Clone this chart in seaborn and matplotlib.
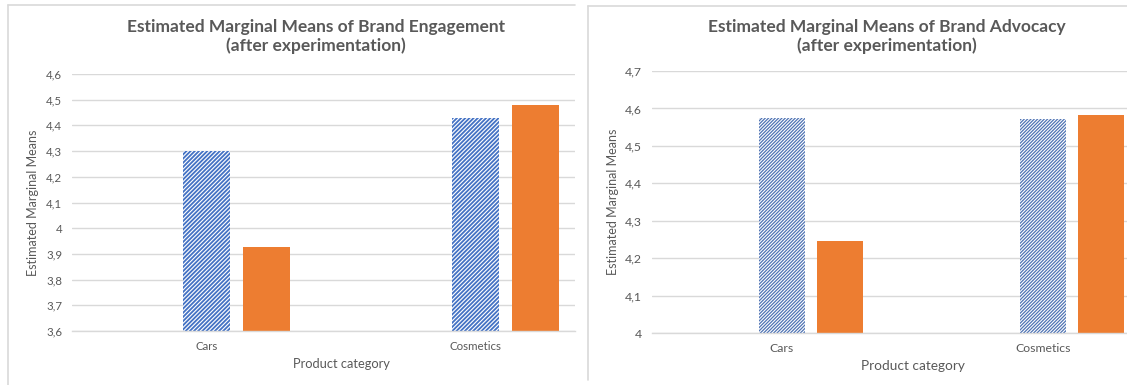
import matplotlib
matplotlib.use('Agg')

import numpy as np
import pandas as pd
import matplotlib.pyplot as plt
import seaborn as sns
from matplotlib.lines import Line2D
from matplotlib.colors import to_rgba
from matplotlib.ticker import FuncFormatter, MultipleLocator

# values
categories = ['Cars', 'Cosmetics']
groups = ['blank', 'Group A', 'Group B']   # first series is empty, as in the Excel source
engagement_a = [4.30, 4.427]
engagement_b = [3.926, 4.481]
advocacy_a = [4.575, 4.572]
advocacy_b = [4.247, 4.582]

titles = ['Estimated Marginal Means of Brand Engagement\n(after experimentation)',
          'Estimated Marginal Means of Brand Advocacy\n(after experimentation)']
ylabel = 'Estimated Marginal Means'
xlabel = 'Product category'

W, H = 1127, 385
GRAY = '#595959'
GRID = '#D9D9D9'
BLUE = '#4472C4'
ORANGE = '#ED7D31'

sns.set_style('white')
plt.rcParams['font.family'] = ['Lato', 'DejaVu Sans']


def fx(px):
	return px / W


def fy(py):
	return 1 - py / H


def comma(v, pos):
	return ('%g' % round(v, 1)).replace('.', ',')


def panel(ax, vals_a, vals_b, ylim, hatch, hatch_lw, hatch_col, fs):
	plt.rcParams['hatch.color'] = hatch_col
	plt.rcParams['hatch.linewidth'] = hatch_lw
	df = pd.DataFrame({
		'category': categories * 2,
		'group': ['Group A'] * 2 + ['Group B'] * 2,
		'value': list(vals_a) + list(vals_b),
	})
	sns.barplot(data=df, x='category', y='value', hue='group', order=categories,
		hue_order=groups, palette={'blank': 'white', 'Group A': 'white', 'Group B': ORANGE},
		width=0.664, gap=0.21, saturation=1, errorbar=None, legend=False,
		linewidth=0, ax=ax)
	# the white bars get the blue stripes
	for bar in ax.patches:
		if tuple(bar.get_facecolor()) != to_rgba('white'):
			continue
		bar.set_hatch(hatch)
		bar.set_edgecolor(hatch_col)
		bar.set_linewidth(0)
		if hasattr(bar, 'set_hatch_linewidth'):
			bar.set_hatch_linewidth(hatch_lw)
	ax.set_ylim(*ylim)
	ax.yaxis.set_major_locator(MultipleLocator(0.1))
	ax.yaxis.set_major_formatter(FuncFormatter(comma))
	ax.yaxis.grid(True, color=GRID, linewidth=1.0)
	ax.set_axisbelow(True)
	for s in ['top', 'right', 'left']:
		ax.spines[s].set_visible(False)
	ax.spines['bottom'].set_color(GRID)
	ax.spines['bottom'].set_linewidth(1.0)
	ax.tick_params(axis='y', length=0, pad=7, labelsize=fs, labelcolor=GRAY)
	ax.tick_params(axis='x', length=0, pad=7, labelsize=fs, labelcolor=GRAY)
	ax.set_ylabel(ylabel, fontsize=9, color=GRAY)
	ax.set_xlabel(xlabel, fontsize=fs + 1, color=GRAY)


fig = plt.figure(figsize=(W / 100, H / 100), dpi=100)
fig.patch.set_facecolor('white')

# left chart (cropped on the right in the source image)
ax1 = fig.add_axes([fx(72), fy(331), fx(575 - 72), (331 - 74) / H])
panel(ax1, engagement_a, engagement_b, (3.6, 4.6), '////////', 1.3, BLUE, 8.3)
ax1.set_xlim(-0.5, -0.5 + (575 - 72) / 269)
ax1.yaxis.set_label_coords((39 - 72) / (575 - 72), 0.5)
ax1.xaxis.set_label_coords((341 - 72) / (575 - 72), -0.105)

# right chart
ax2 = fig.add_axes([fx(651.5), fy(333), fx(1127 - 651.5), (333 - 71) / H])
panel(ax2, advocacy_a, advocacy_b, (4.0, 4.7), '//////////', 0.9, '#4F74B4', 8.8)
ax2.set_xlim(-0.5, -0.5 + (1127 - 651.5) / 261)
ax2.yaxis.set_label_coords((619 - 651.5) / (1127 - 651.5), 0.5)
ax2.xaxis.set_label_coords((912.5 - 651.5) / (1127 - 651.5), -0.103)

fig.text(fx(316), fy(36.5), titles[0], ha='center', va='center', fontsize=12.5,
	fontweight='bold', color=GRAY, linespacing=1.25)
fig.text(fx(887), fy(36.5), titles[1], ha='center', va='center', fontsize=12.5,
	fontweight='bold', color=GRAY, linespacing=1.25)

# chart frames
for xs, ys in [([8, 8], [385, 5]), ([8, 575], [5, 5]),
		([587.5, 587.5], [380, 6]), ([587.5, 1127], [6, 6])]:
	fig.add_artist(Line2D([fx(x) for x in xs], [fy(y) for y in ys],
		transform=fig.transFigure, color=GRID, linewidth=1.2))

fig.savefig('out.png', dpi=100)
